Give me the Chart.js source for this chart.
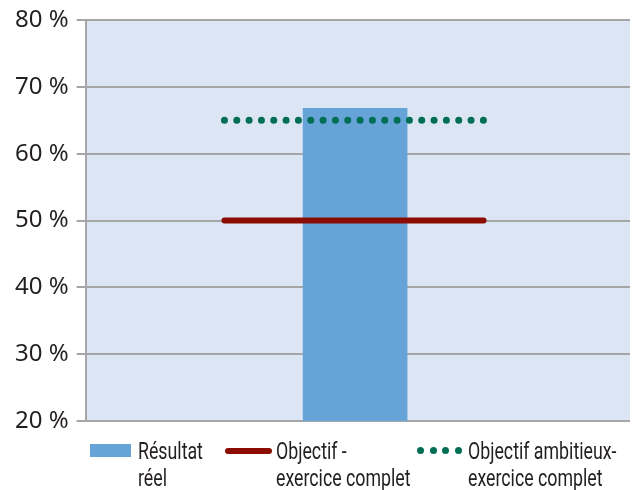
<!DOCTYPE html>
<html>
<head>
<meta charset="utf-8">
<script src="https://cdn.jsdelivr.net/npm/chart.js@4/dist/chart.umd.min.js"></script>
<style>
  html, body { margin: 0; padding: 0; background: #fff; }
  #wrap { position: relative; width: 639px; height: 490px; overflow: hidden; }
  #chart { position: absolute; left: 0; top: 0; }
  .legend { position: absolute; left: 0; top: 438px; width: 639px; height: 52px;
            font-family: Roboto, "DejaVu Sans Condensed", sans-serif;
            font-size: 24px; line-height: 27px; color: #231f20; }
  .sym { position: absolute; }
  .txt { position: absolute; top: 0; white-space: nowrap; transform: scaleX(0.74); transform-origin: 0 0; }
</style>
</head>
<body>
<div id="wrap">
  <canvas id="chart" width="639" height="441"></canvas>
  <div class="legend" id="legend"></div>
</div>
<script>
// Taux atteint comparé aux deux objectifs de l'exercice
const categories = ['Résultat réel'];
const resultValues = [66.8];
const objectiveValue = 50;
const ambitiousValue = 65;
const yTicks = [20, 30, 40, 50, 60, 70, 80];
const legendLabels = [
  ['Résultat', 'réel'],
  ['Objectif -', 'exercice complet'],
  ['Objectif ambitieux-', 'exercice complet']
];
// placement on the hidden 0–1 horizontal axis
const barPosition = 0.495;
const targetSpan = [0.255, 0.731];

const colors = { bar: '#66a3d7', objective: '#8b0c00', ambitious: '#006e55', plot: '#dbe5f3', grid: '#a6a6a6' };

const plotBackground = {
  id: 'plotBackground',
  beforeDraw(chart) {
    const { ctx, chartArea: a } = chart;
    ctx.save();
    ctx.fillStyle = colors.plot;
    ctx.fillRect(a.left, a.top, a.right - a.left, a.bottom - a.top);
    ctx.restore();
  }
};

new Chart(document.getElementById('chart'), {
  type: 'bar',
  data: {
    datasets: [
      {
        type: 'line', label: legendLabels[2].join(' '),
        data: targetSpan.map(x => ({ x, y: ambitiousValue })),
        borderColor: colors.ambitious, borderWidth: 7, borderCapStyle: 'round',
        borderDash: [0, 12.33], pointRadius: 0, fill: false, order: 0
      },
      {
        type: 'line', label: legendLabels[1].join(' '),
        data: targetSpan.map(x => ({ x, y: objectiveValue })),
        borderColor: colors.objective, borderWidth: 6, borderCapStyle: 'round',
        pointRadius: 0, fill: false, order: 1
      },
      {
        type: 'bar', label: categories[0],
        data: resultValues.map(y => ({ x: barPosition, y })),
        backgroundColor: colors.bar,
        barThickness: 104, order: 2
      }
    ]
  },
  options: {
    responsive: false,
    animation: false,
    layout: { padding: { top: 7, right: 9, left: 7, bottom: 11 } },
    plugins: { legend: { display: false }, tooltip: { enabled: false } },
    scales: {
      x: { type: 'linear', display: false, min: 0, max: 1, offset: false },
      y: {
        min: yTicks[0], max: yTicks[yTicks.length - 1],
        afterBuildTicks(scale) { scale.ticks = yTicks.map(v => ({ value: v })); },
        ticks: {
          callback: v => v + ' %',
          color: '#231f20', padding: 8,
          font: { family: '"Noto Sans", sans-serif', size: 24, lineHeight: 1 }
        },
        grid: { color: colors.grid, lineWidth: 2, tickLength: 9, drawTicks: true },
        border: { color: colors.grid, width: 2 }
      }
    }
  },
  plugins: [plotBackground]
});

// legend below the plot
const legendEl = document.getElementById('legend');
const legendLayout = [
  { sym: 90, txt: 138, kind: 'box' },
  { sym: 225, txt: 276, kind: 'line' },
  { sym: 417, txt: 468, kind: 'dots' }
];
legendLayout.forEach((it, i) => {
  const sym = document.createElement('div');
  sym.className = 'sym';
  if (it.kind === 'box') {
    Object.assign(sym.style, { left: it.sym + 'px', top: '6px', width: '41px', height: '13px', background: colors.bar });
  } else if (it.kind === 'line') {
    Object.assign(sym.style, { left: it.sym + 'px', top: '10px', width: '47px', height: '6px', borderRadius: '3px', background: colors.objective });
  } else {
    Object.assign(sym.style, { left: it.sym + 'px', top: '9px', width: '45px', height: '7px', display: 'flex', justifyContent: 'space-between' });
    for (let k = 0; k < 4; k++) {
      const d = document.createElement('div');
      Object.assign(d.style, { width: '7px', height: '7px', borderRadius: '50%', background: colors.ambitious });
      sym.appendChild(d);
    }
  }
  const txt = document.createElement('div');
  txt.className = 'txt';
  txt.style.left = it.txt + 'px';
  txt.innerHTML = legendLabels[i].join('<br>');
  legendEl.appendChild(sym);
  legendEl.appendChild(txt);
});
</script>
</body>
</html>
